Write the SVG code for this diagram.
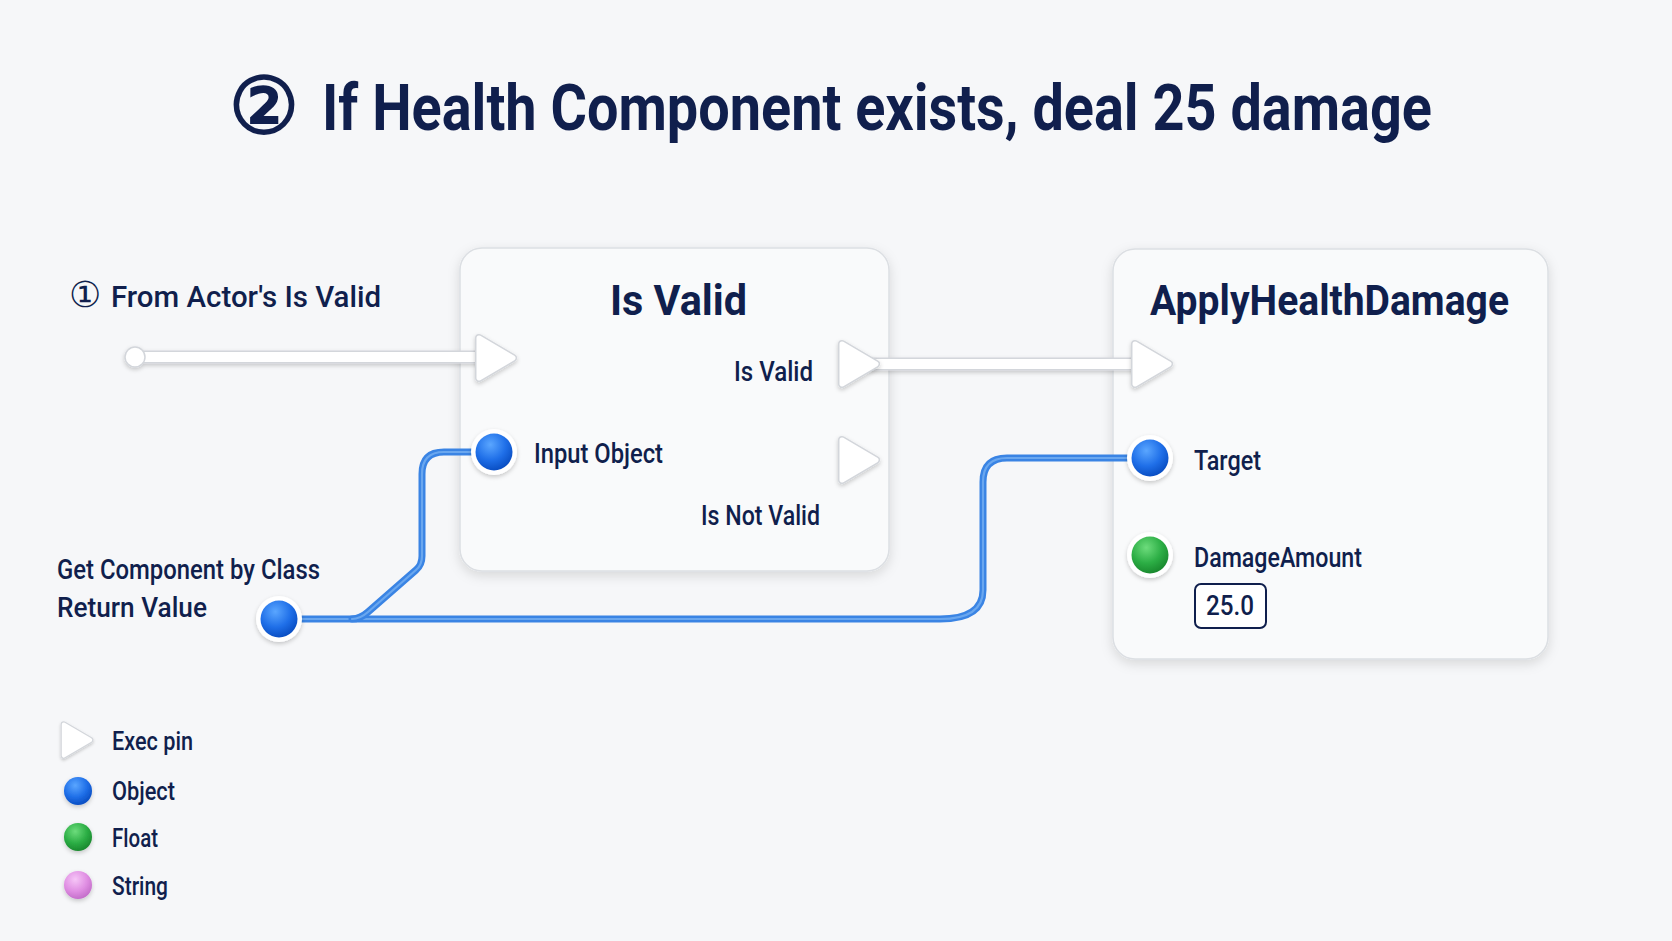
<svg xmlns="http://www.w3.org/2000/svg" width="1672" height="941" viewBox="0 0 1672 941">
<defs>
<style>
.t{font-family:Roboto,"Liberation Sans",Arial,sans-serif;fill:#101f4d}
.title{font-size:64px;font-weight:700}
.ntitle{font-size:43px;font-weight:700}
.lbl{font-size:27px;font-weight:500}
.leg{font-size:25px;font-weight:500}
.node{fill:#f9fafb;stroke:#dcdfe3;stroke-width:1.5}
.ex-o{fill:#d3d6db;stroke:#d3d6db;stroke-width:8;stroke-linejoin:round}
.ex-i{fill:#ffffff;stroke:#ffffff;stroke-width:5;stroke-linejoin:round}
.wire-o{fill:none;stroke:#3a84e4;stroke-width:7;stroke-linecap:round;stroke-linejoin:round}
.wire-i{fill:none;stroke:#7fb6f4;stroke-width:2.2;stroke-linecap:round;stroke-linejoin:round;opacity:0.7}
.exw-o{fill:none;stroke:#d3d6db;stroke-width:13;stroke-linecap:round}
.exw-i{fill:none;stroke:#ffffff;stroke-width:10;stroke-linecap:round}
</style>
<filter id="sh" x="-20%" y="-20%" width="140%" height="140%">
<feDropShadow dx="0" dy="4" stdDeviation="6" flood-color="#000" flood-opacity="0.13"/>
</filter>
<filter id="psh" x="-50%" y="-50%" width="200%" height="200%">
<feDropShadow dx="0" dy="2" stdDeviation="2" flood-color="#000" flood-opacity="0.2"/>
</filter>
<radialGradient id="gb" cx="0.4" cy="0.3" r="0.7">
<stop offset="0" stop-color="#5aa6ff"/><stop offset="0.6" stop-color="#1f6fe8"/><stop offset="1" stop-color="#0a4fc4"/>
</radialGradient>
<radialGradient id="gg" cx="0.4" cy="0.3" r="0.7">
<stop offset="0" stop-color="#6ddc7c"/><stop offset="0.6" stop-color="#2cae45"/><stop offset="1" stop-color="#1a8a2f"/>
</radialGradient>
<radialGradient id="gp" cx="0.4" cy="0.3" r="0.7">
<stop offset="0" stop-color="#f6c6f7"/><stop offset="0.6" stop-color="#e08fe3"/><stop offset="1" stop-color="#c56fcb"/>
</radialGradient>
<g id="exec">
<path class="ex-o" d="M -17 -20 L 17 0 L -17 20 Z"/>
<path class="ex-i" d="M -17 -20 L 17 0 L -17 20 Z"/>
</g>
<g id="pinb"><circle r="23" fill="#ffffff" filter="url(#psh)"/><circle r="18.5" fill="url(#gb)"/></g>
<g id="ping"><circle r="23" fill="#ffffff" filter="url(#psh)"/><circle r="18.5" fill="url(#gg)"/></g>
</defs>
<rect width="1672" height="941" fill="#f6f7f9"/>

<g id="title">
<text class="t" x="264" y="133" font-size="78" font-weight="700" font-family="'DejaVu Sans',sans-serif" text-anchor="middle" fill="#101f4d">②</text>
<text class="t title" x="322" y="130" textLength="1110" lengthAdjust="spacingAndGlyphs">If Health Component exists, deal 25 damage</text>
</g>

<g id="node-isvalid">
<rect class="node" x="460" y="248" width="429" height="323" rx="22" filter="url(#sh)"/>
<text class="t ntitle" x="610" y="315" textLength="137" lengthAdjust="spacingAndGlyphs">Is Valid</text>
<text class="t lbl" x="734" y="381" textLength="79" lengthAdjust="spacingAndGlyphs">Is Valid</text>
<text class="t lbl" x="534" y="463" textLength="129" lengthAdjust="spacingAndGlyphs">Input Object</text>
<text class="t lbl" x="701" y="525" textLength="119" lengthAdjust="spacingAndGlyphs">Is Not Valid</text>
</g>

<g id="node-apply">
<rect class="node" x="1113" y="249" width="435" height="410" rx="22" filter="url(#sh)"/>
<text class="t ntitle" x="1150" y="315" textLength="359" lengthAdjust="spacingAndGlyphs">ApplyHealthDamage</text>
<text class="t lbl" x="1194" y="470" textLength="67" lengthAdjust="spacingAndGlyphs">Target</text>
<text class="t lbl" x="1194" y="567" textLength="168" lengthAdjust="spacingAndGlyphs">DamageAmount</text>
<rect x="1195" y="584" width="71" height="44" rx="6" fill="#ffffff" stroke="#101f4d" stroke-width="2"/>
<text class="t lbl" x="1230" y="615" text-anchor="middle" textLength="48" lengthAdjust="spacingAndGlyphs">25.0</text>
</g>

<g id="label-from">
<text class="t" x="85" y="307" font-size="36" font-family="'DejaVu Sans',sans-serif" text-anchor="middle" fill="#101f4d">①</text>
<text class="t" x="111" y="307" font-size="30" font-weight="500" textLength="270" lengthAdjust="spacingAndGlyphs">From Actor's Is Valid</text>
</g>

<g id="label-getcomp">
<text class="t lbl" x="57" y="579" font-size="25" textLength="263" lengthAdjust="spacingAndGlyphs">Get Component by Class</text>
<text class="t lbl" x="57" y="617" font-size="25" textLength="150" lengthAdjust="spacingAndGlyphs">Return Value</text>
</g>

<g id="connectors">
<g filter="url(#psh)">
<path class="exw-o" d="M 135 357 L 482 357"/>
<path class="exw-i" d="M 135 357 L 482 357"/>
<circle cx="135" cy="357" r="10" fill="#ffffff" stroke="#d3d6db" stroke-width="1.5"/>
<path class="exw-o" d="M 872 364 L 1140 364"/>
<path class="exw-i" d="M 872 364 L 1140 364"/>
</g>
<path class="wire-o" d="M 290 619 L 940 619 Q 983 619 983 590 L 983 482 Q 983 458 1007 458 L 1135 458"/>
<path class="wire-i" d="M 290 619 L 940 619 Q 983 619 983 590 L 983 482 Q 983 458 1007 458 L 1135 458"/>
<path class="wire-o" d="M 352 619 Q 360 619 368 612 L 416 570 Q 422 565 422 556 L 422 474 Q 422 452 444 452 L 478 452"/>
<path class="wire-i" d="M 352 619 Q 360 619 368 612 L 416 570 Q 422 565 422 556 L 422 474 Q 422 452 444 452 L 478 452"/>
</g>

<g id="pins">
<use href="#exec" transform="translate(496,358)" filter="url(#psh)"/>
<use href="#exec" transform="translate(859,364)" filter="url(#psh)"/>
<use href="#exec" transform="translate(859,460)" filter="url(#psh)"/>
<use href="#exec" transform="translate(1152,364)" filter="url(#psh)"/>
<use href="#pinb" transform="translate(494,452)"/>
<use href="#pinb" transform="translate(1150,458)"/>
<use href="#ping" transform="translate(1150,555)"/>
<use href="#pinb" transform="translate(279,619)"/>
</g>

<g id="legend">
<use href="#exec" transform="translate(77,740) scale(0.78)" filter="url(#psh)"/>
<circle cx="78" cy="791" r="14" fill="url(#gb)" filter="url(#psh)"/>
<circle cx="78" cy="837" r="14" fill="url(#gg)" filter="url(#psh)"/>
<circle cx="78" cy="885" r="14" fill="url(#gp)" filter="url(#psh)"/>
<text class="t leg" x="112" y="750" textLength="81" lengthAdjust="spacingAndGlyphs">Exec pin</text>
<text class="t leg" x="112" y="800" textLength="63" lengthAdjust="spacingAndGlyphs">Object</text>
<text class="t leg" x="112" y="847" textLength="46" lengthAdjust="spacingAndGlyphs">Float</text>
<text class="t leg" x="112" y="895" textLength="56" lengthAdjust="spacingAndGlyphs">String</text>
</g>
</svg>
